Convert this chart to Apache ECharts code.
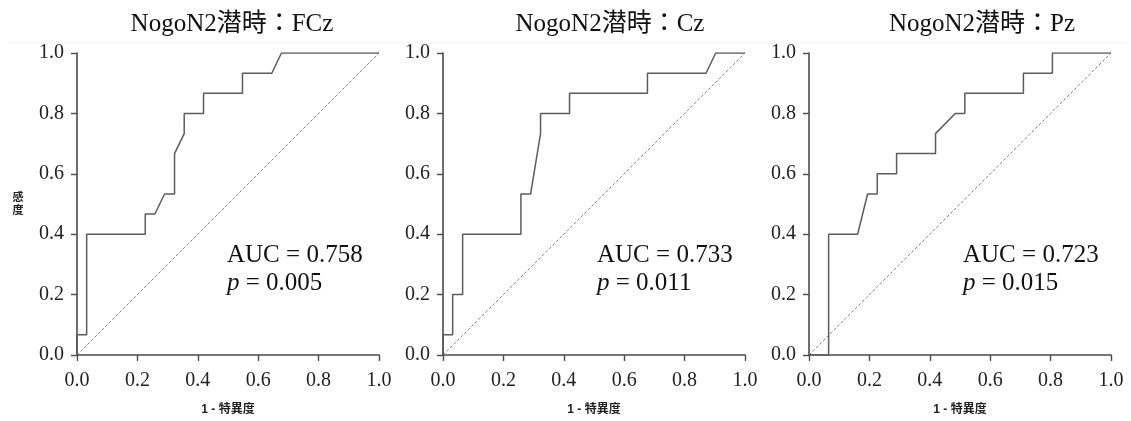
<!DOCTYPE html>
<html>
<head>
<meta charset="utf-8">
<script src="https://cdn.jsdelivr.net/npm/echarts@6/dist/echarts.min.js"></script>
<style>
  html, body { margin: 0; padding: 0; background: #fff; }
  #chart { width: 1131px; height: 421px; }
</style>
</head>
<body>
<div id="chart"></div>
<script>
// ROC curves of NogoN2 latency at three electrode sites
const panelTitles = ['NogoN2潜時：FCz', 'NogoN2潜時：Cz', 'NogoN2潜時：Pz'];
const aucTexts = ['AUC = 0.758', 'AUC = 0.733', 'AUC = 0.723'];
const pTexts = ['0.005', '0.011', '0.015'];
const xAxisTitle = '1 - 特異度';
const yAxisTitle = '感度';
const tickLabels = ['0.0', '0.2', '0.4', '0.6', '0.8', '1.0'];

// FCz: 1 - specificity / sensitivity
const fczX = [0, 0, 0.032, 0.032, 0.226, 0.226, 0.258, 0.290, 0.323, 0.323, 0.355, 0.355, 0.419, 0.419, 0.548, 0.548, 0.645, 0.677, 1.0];
const fczY = [0, 0.067, 0.067, 0.400, 0.400, 0.467, 0.467, 0.533, 0.533, 0.667, 0.733, 0.800, 0.800, 0.867, 0.867, 0.933, 0.933, 1.0, 1.0];

// Cz
const czX = [0, 0, 0.032, 0.032, 0.065, 0.065, 0.258, 0.258, 0.290, 0.323, 0.323, 0.419, 0.419, 0.677, 0.677, 0.871, 0.903, 1.0];
const czY = [0, 0.067, 0.067, 0.200, 0.200, 0.400, 0.400, 0.533, 0.533, 0.733, 0.800, 0.800, 0.867, 0.867, 0.933, 0.933, 1.0, 1.0];

// Pz
const pzX = [0, 0.065, 0.065, 0.161, 0.194, 0.226, 0.226, 0.290, 0.290, 0.419, 0.419, 0.484, 0.516, 0.516, 0.710, 0.710, 0.806, 0.806, 1.0];
const pzY = [0, 0, 0.400, 0.400, 0.533, 0.533, 0.600, 0.600, 0.667, 0.667, 0.733, 0.800, 0.800, 0.867, 0.867, 0.933, 0.933, 1.0, 1.0];

// Chance diagonal
const refX = [0, 1];
const refY = [0, 1];

const curves = [[fczX, fczY], [czX, czY], [pzX, pzY]];

const serif = '"Liberation Serif", "Times New Roman", "Noto Sans CJK JP", serif';
const sans = '"Liberation Sans", Arial, "Noto Sans CJK JP", sans-serif';
const axisColor = '#4a4a4a';
const lineColor = '#5c5c5c';

const gridLefts = [77, 443, 809];
const titleCenters = [232, 610, 982];
const plotW = 302, plotTop = 53, plotH = 302;

const zip = (xs, ys) => xs.map((x, i) => [x, ys[i]]);
const tickFmt = v => tickLabels[Math.round(v / 0.2)];

const grids = [], xAxes = [], yAxes = [], series = [], graphics = [];

gridLefts.forEach((left, i) => {
  grids.push({ left: left, top: plotTop, width: plotW, height: plotH, containLabel: false });
  xAxes.push({
    type: 'value', gridIndex: i, min: 0, max: 1, interval: 0.2,
    name: xAxisTitle, nameLocation: 'middle', nameGap: 49,
    nameTextStyle: { fontFamily: sans, fontWeight: 'bold', fontSize: 12, color: '#222' },
    axisLine: { show: true, lineStyle: { color: axisColor, width: 1.6 } },
    axisTick: { show: true, inside: false, length: 6, lineStyle: { color: axisColor, width: 1.4 } },
    axisLabel: { formatter: tickFmt, fontFamily: serif, fontSize: 20, color: '#222', margin: 16 },
    splitLine: { show: false }
  });
  yAxes.push({
    type: 'value', gridIndex: i, min: 0, max: 1, interval: 0.2,
    axisLine: { show: true, lineStyle: { color: axisColor, width: 1.6 } },
    axisTick: { show: true, inside: false, length: 6, lineStyle: { color: axisColor, width: 1.4 } },
    axisLabel: { formatter: tickFmt, fontFamily: serif, fontSize: 20, color: '#222', margin: 13 },
    splitLine: { show: false }
  });
  series.push({
    type: 'line', xAxisIndex: i, yAxisIndex: i,
    data: zip(refX, refY), symbol: 'none', silent: true,
    lineStyle: { color: '#666', width: 0.8, type: [3, 2] }
  });
  series.push({
    type: 'line', xAxisIndex: i, yAxisIndex: i,
    data: zip(curves[i][0], curves[i][1]), symbol: 'none', silent: true,
    lineStyle: { color: lineColor, width: 1.5 }
  });

  graphics.push({
    type: 'text', x: titleCenters[i], y: 24,
    style: { text: panelTitles[i], font: '25px ' + serif, fill: '#111', align: 'center', verticalAlign: 'middle' }
  });
  graphics.push({
    type: 'text', x: left + (i === 0 ? 150 : 154), y: 255,
    style: { text: aucTexts[i], font: '25px ' + serif, fill: '#111', align: 'left', verticalAlign: 'middle' }
  });
  graphics.push({
    type: 'text', x: left + (i === 0 ? 150 : 154), y: 283,
    style: {
      text: '{i|p} = ' + pTexts[i], font: '25px ' + serif, fill: '#111', align: 'left', verticalAlign: 'middle',
      rich: { i: { fontStyle: 'italic', fontFamily: serif, fontSize: 25, fill: '#111' } }
    }
  });
});

// vertical axis title, one character per row
yAxisTitle.split('').forEach((ch, k) => {
  graphics.push({
    type: 'text', x: 18, y: 198 + k * 13,
    style: { text: ch, font: 'bold 11px ' + sans, fill: '#222', align: 'center', verticalAlign: 'middle' }
  });
});
// faint rule above the plots
graphics.push({
  type: 'line', shape: { x1: 8, y1: 43, x2: 1125, y2: 43 },
  style: { stroke: '#f3f3f3', lineWidth: 1 }
});

const chart = echarts.init(document.getElementById('chart'), null, { renderer: 'canvas' });
chart.setOption({
  backgroundColor: '#fff',
  animation: false,
  grid: grids,
  xAxis: xAxes,
  yAxis: yAxes,
  series: series,
  graphic: graphics
});
</script>
</body>
</html>
